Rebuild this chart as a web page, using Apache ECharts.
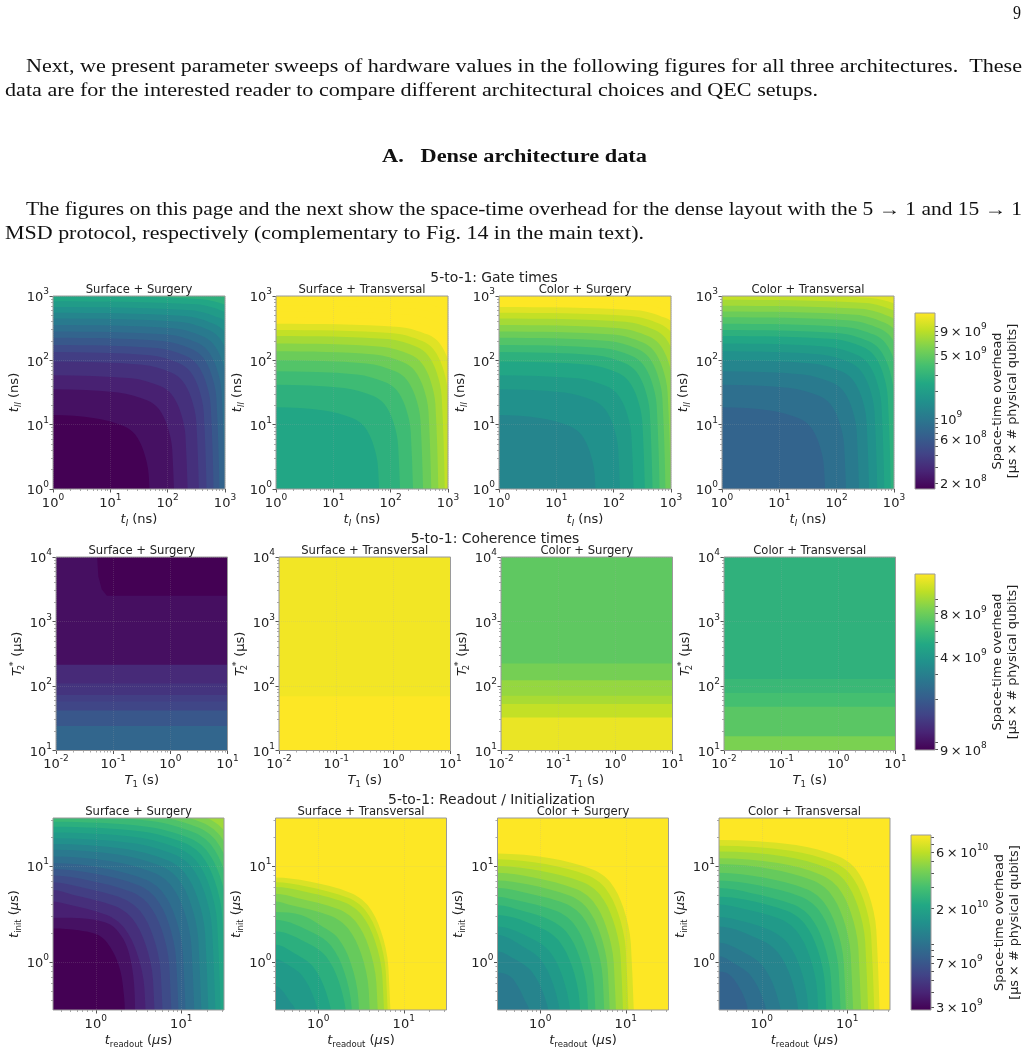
<!DOCTYPE html>
<html>
<head>
<meta charset="utf-8">
<title>Dense architecture parameter sweeps</title>
<script src="https://cdn.jsdelivr.net/npm/echarts@6/dist/echarts.min.js"></script>
<style>html,body{margin:0;padding:0;background:#fff}#page{width:1028px;height:1050px}</style>
</head>
<body>
<div id="page"></div>
<script>
// Band levels of the filled contours, one list per row (space-time overhead).
const gateLevels = [1.72e8,2.10e8,2.57e8,3.14e8,3.83e8,4.68e8,5.72e8,6.99e8,8.54e8,1.04e9,1.27e9,1.56e9,1.90e9,2.33e9,2.84e9,3.47e9,4.24e9,5.18e9,6.33e9,7.74e9,9.45e9,1.15e10,1.41e10];
const readoutLevels = [2.82e9,3.28e9,3.82e9,4.45e9,5.18e9,6.03e9,7.02e9,8.17e9,9.51e9,1.11e10,1.29e10,1.50e10,1.75e10,2.03e10,2.37e10,2.76e10,3.21e10,3.73e10,4.35e10,5.06e10,5.89e10,6.86e10,8.3e10];

// Colour bar ranges and labelled ticks.
const gateRange = [1.72e8, 1.41e10];
const coherenceRange = [8.9e8, 1.5e10];
const readoutRange = [2.82e9, 8.3e10];
const gateBarLabels = [2e8, 6e8, 1e9, 5e9, 9e9];
const coherenceBarLabels = [9e8, 4e9, 8e9];
const readoutBarLabels = [3e9, 7e9, 2e10, 6e10];

// Contour lines as flat lists of log10(x), log10(y), innermost contour first.
const gateCurvesSurgery = [
[0,1.15,.73,1.10,1.23,.98,1.43,.85,1.58,.59,1.67,.21,1.73,-1.85],
[0,1.55,1.14,1.5,1.64,1.38,1.84,1.25,1.99,.99,2.08,.61,2.14,-1.45],
[0,1.77,1.37,1.72,1.87,1.6,2.07,1.47,2.22,1.21,2.31,.83,2.37,-1.23],
[0,1.98,1.56,1.93,2.06,1.81,2.26,1.68,2.41,1.42,2.5,1.04,2.56,-1.02],
[0,2.13,1.69,2.08,2.19,1.96,2.39,1.83,2.54,1.57,2.63,1.19,2.69,-.87],
[0,2.24,1.81,2.19,2.31,2.07,2.51,1.94,2.66,1.68,2.75,1.3,2.81,-.76],
[0,2.35,1.91,2.3,2.41,2.18,2.61,2.05,2.76,1.79,2.85,1.41,2.91,-.65],
[0,2.45,2,2.4,2.5,2.28,2.7,2.15,2.85,1.89,2.94,1.51,3,-.55],
[0,2.55,2.1,2.5,2.6,2.38,2.8,2.25,2.95,1.99,3.04,1.61,3.1,-.45],
[0,2.65,2.2,2.6,2.7,2.48,2.9,2.35,3.05,2.09,3.14,1.71,3.2,-.35],
[0,2.74,2.3,2.69,2.8,2.57,3,2.44,3.15,2.18,3.24,1.8,3.3,-.26],
[0,2.83,2.4,2.78,2.9,2.66,3.1,2.53,3.25,2.27,3.34,1.89,3.4,-.17],
[0,2.92,2.5,2.87,3,2.75,3.2,2.62,3.35,2.36,3.44,1.98,3.5,-.08],
[0,3,2.6,2.95,3.1,2.83,3.3,2.7,3.45,2.44,3.54,2.06,3.6,0],
[0,3.08,2.7,3.03,3.2,2.91,3.4,2.78,3.55,2.52,3.64,2.14,3.7,.08]
];
const gateCurvesTransversal = [
[0,1.27,.84,1.22,1.34,1.1,1.54,.97,1.69,.71,1.78,.33,1.84,-1.73],
[0,1.62,1.19,1.57,1.69,1.45,1.89,1.32,2.04,1.06,2.13,.68,2.19,-1.38],
[0,1.83,1.41,1.78,1.91,1.66,2.11,1.53,2.26,1.27,2.35,.89,2.41,-1.17],
[0,2,1.58,1.95,2.08,1.83,2.28,1.7,2.43,1.44,2.52,1.06,2.58,-1],
[0,2.14,1.72,2.09,2.22,1.97,2.42,1.84,2.57,1.58,2.66,1.2,2.72,-.86],
[0,2.26,1.84,2.21,2.34,2.09,2.54,1.96,2.69,1.7,2.78,1.32,2.84,-.74],
[0,2.38,1.95,2.33,2.45,2.21,2.65,2.08,2.8,1.82,2.89,1.44,2.95,-.62],
[0,2.47,2.05,2.42,2.55,2.3,2.75,2.17,2.9,1.91,2.99,1.53,3.05,-.53],
[0,2.57,2.15,2.52,2.65,2.4,2.85,2.27,3,2.01,3.09,1.63,3.15,-.43],
[0,2.67,2.24,2.62,2.74,2.5,2.94,2.37,3.09,2.11,3.18,1.73,3.24,-.33],
[0,2.76,2.33,2.71,2.83,2.59,3.03,2.46,3.18,2.2,3.27,1.82,3.33,-.24],
[0,2.85,2.42,2.8,2.92,2.68,3.12,2.55,3.27,2.29,3.36,1.91,3.42,-.15],
[0,2.94,2.51,2.89,3.01,2.77,3.21,2.64,3.36,2.38,3.45,2,3.51,-.06],
[0,3.02,2.6,2.97,3.1,2.85,3.3,2.72,3.45,2.46,3.54,2.08,3.6,.02],
[0,3.1,2.7,3.05,3.2,2.93,3.4,2.8,3.55,2.54,3.64,2.16,3.7,.1]
];
const readoutCurvesSurfaceSurgery = [
[-.5,.35,-.2,.33,.05,.27,.2,.11,.29,-.1,.33,-.35,.34,-.5,.34,-2.6],
[-.5,.46,-.1,.45,.17,.39,.3,.27,.38,.12,.44,-.15,.46,-.5,.46,-2.5],
[-.5,.63,-.37,.61,.13,.49,.33,.36,.48,.1,.57,-.28,.63,-2.34],
[-.5,.75,-.27,.7,.23,.58,.43,.45,.58,.19,.67,-.19,.73,-2.25],
[-.5,.83,-.18,.78,.32,.66,.52,.53,.67,.27,.76,-.11,.82,-2.17],
[-.5,.9,-.08,.85,.42,.73,.62,.6,.77,.34,.86,-.04,.92,-2.1],
[-.5,.97,0,.92,.5,.8,.7,.67,.85,.41,.94,.03,1,-2.03],
[-.5,1.03,.08,.98,.58,.86,.78,.73,.93,.47,1.02,.09,1.08,-1.97],
[-.5,1.1,.18,1.05,.68,.93,.88,.8,1.03,.54,1.12,.16,1.18,-1.9],
[-.5,1.17,.26,1.12,.76,1,.96,.87,1.11,.61,1.2,.23,1.26,-1.83],
[-.5,1.23,.34,1.18,.84,1.06,1.04,.93,1.19,.67,1.28,.29,1.34,-1.77],
[-.5,1.29,.42,1.24,.92,1.12,1.12,.99,1.27,.73,1.36,.35,1.42,-1.71],
[-.5,1.35,.48,1.3,.98,1.18,1.18,1.05,1.33,.79,1.42,.41,1.48,-1.65],
[-.5,1.41,.54,1.36,1.04,1.24,1.24,1.11,1.39,.85,1.48,.47,1.54,-1.59],
[-.5,1.46,.6,1.41,1.1,1.29,1.3,1.16,1.45,.9,1.54,.52,1.6,-1.54],
[-.5,1.52,.65,1.47,1.15,1.35,1.35,1.22,1.5,.96,1.59,.58,1.65,-1.48],
[-.5,1.57,.7,1.52,1.2,1.4,1.4,1.27,1.55,1.01,1.64,.63,1.7,-1.43],
[-.5,1.62,.75,1.57,1.25,1.45,1.45,1.32,1.6,1.06,1.69,.68,1.75,-1.38],
[-.5,1.67,.8,1.62,1.3,1.5,1.5,1.37,1.65,1.11,1.74,.73,1.8,-1.33],
[-.5,1.73,.86,1.68,1.36,1.56,1.56,1.43,1.71,1.17,1.8,.79,1.86,-1.27],
[-.5,1.79,.92,1.74,1.42,1.62,1.62,1.49,1.77,1.23,1.86,.85,1.92,-1.21]
];
const readoutCurvesSurfaceTransversal = [
[-.5,-.25,-.42,-.3,-.34,-.4,-.27,-.5,-.27,-2],
[-.5,.03,-.39,-.01,-.19,-.14,-.04,-.4,.05,-.78,.11,-2.9],
[-.5,.18,-.26,.08,-.06,-.05,.09,-.31,.18,-.69,.24,-2.75],
[-.5,.32,-.11,.19,.09,.06,.24,-.2,.33,-.58,.39,-2.64],
[-.5,.44,-.05,.3,.15,.17,.3,-.09,.39,-.47,.45,-2.53],
[-.5,.52,-.2,.49,.03,.38,.23,.25,.38,-.01,.47,-.39,.53,-2.45],
[-.5,.63,-.35,.6,.15,.48,.35,.35,.5,.09,.59,-.29,.65,-2.35],
[-.5,.71,-.26,.67,.24,.55,.44,.42,.59,.16,.68,-.22,.74,-2.28],
[-.5,.78,-.19,.74,.31,.62,.51,.49,.66,.23,.75,-.15,.81,-2.21],
[-.5,.83,-.15,.79,.35,.67,.55,.54,.7,.28,.79,-.1,.85,-2.16],
[-.5,.88,-.12,.84,.38,.72,.58,.59,.73,.33,.82,-.05,.88,-2.11]
];
const readoutCurvesColorSurgery = [
[-.5,-.11,-.35,-.15,-.25,-.27,-.18,-.4,-.13,-.5,-.13,-2],
[-.5,.11,-.3,.03,-.1,-.1,.05,-.36,.14,-.74,.2,-2.8],
[-.5,.28,-.2,.16,0,.03,.15,-.23,.24,-.61,.3,-2.7],
[-.5,.37,-.09,.24,.11,.11,.26,-.15,.35,-.53,.41,-2.6],
[-.5,.49,.02,.35,.22,.22,.37,-.04,.46,-.42,.52,-2.48],
[-.5,.59,-.2,.53,.11,.44,.31,.31,.46,.05,.55,-.33,.61,-2.39],
[-.5,.68,-.31,.65,.19,.53,.39,.4,.54,.14,.63,-.24,.69,-2.3],
[-.5,.77,-.21,.73,.29,.61,.49,.48,.64,.22,.73,-.16,.79,-2.22],
[-.5,.85,-.15,.81,.35,.69,.55,.56,.7,.3,.79,-.08,.85,-2.14],
[-.5,.93,-.08,.88,.42,.76,.62,.63,.77,.37,.86,-.01,.92,-2.07],
[-.5,1,0,.95,.5,.83,.7,.7,.85,.44,.94,.06,1,-2],
[-.5,1.07,.06,1.02,.56,.9,.76,.77,.91,.51,1,.13,1.06,-1.93],
[-.5,1.13,.12,1.08,.62,.96,.82,.83,.97,.57,1.06,.19,1.12,-1.87]
];
const readoutCurvesColorTransversal = [
[-.5,-.1,-.38,-.13,-.28,-.24,-.2,-.38,-.165,-.5,-.165,-2],
[-.5,.06,-.33,-.01,-.13,-.14,.02,-.4,.11,-.78,.17,-2.8],
[-.5,.2,-.19,.09,.01,-.04,.16,-.3,.25,-.68,.31,-2.7],
[-.5,.37,-.01,.23,.19,.1,.34,-.16,.43,-.54,.49,-2.6],
[-.5,.47,-.2,.42,.1,.33,.3,.2,.45,-.06,.54,-.44,.6,-2.5],
[-.5,.6,-.29,.57,.21,.45,.41,.32,.56,.06,.65,-.32,.71,-2.38],
[-.5,.68,-.2,.65,.3,.53,.5,.4,.65,.14,.74,-.24,.8,-2.3],
[-.5,.77,-.13,.72,.37,.6,.57,.47,.72,.21,.81,-.17,.87,-2.23],
[-.5,.85,-.04,.8,.46,.68,.66,.55,.81,.29,.9,-.09,.96,-2.15],
[-.5,.93,.02,.88,.52,.76,.72,.63,.87,.37,.96,-.01,1.02,-2.07],
[-.5,1.02,.1,.97,.6,.85,.8,.72,.95,.46,1.04,.08,1.1,-1.98],
[-.5,1.08,.19,1.03,.69,.91,.89,.78,1.04,.52,1.13,.14,1.19,-1.92],
[-.5,1.15,.27,1.1,.77,.98,.97,.85,1.12,.59,1.21,.21,1.27,-1.85],
[-.5,1.21,.34,1.16,.84,1.04,1.04,.91,1.19,.65,1.28,.27,1.34,-1.79],
[-.5,1.27,.4,1.22,.9,1.1,1.1,.97,1.25,.71,1.34,.33,1.4,-1.73]
];

// Coherence sweep: horizontal bands, edges in log10(T2*) from top to bottom.
const coherenceSurfaceSurgeryEdges = [4,2.33,2.04,1.86,1.76,1.62,1.38,1];
const coherenceSurfaceSurgeryValues = [9.97e8,1.24e9,1.36e9,1.5e9,1.6e9,1.91e9,2.26e9];
const coherenceSurfaceSurgeryNotch = [-1.28,4,-1.26,3.7,-1.2,3.5,-1.11,3.4,1,3.4,1,4];
const coherenceSurfaceSurgeryNotchValue = 8.9e8;
const coherenceSurfaceTransversalEdges = [4,1.84,1];
const coherenceSurfaceTransversalValues = [1.43e10,1.5e10];
const coherenceColorSurgeryEdges = [4,2.35,2.09,1.85,1.72,1.51,1];
const coherenceColorSurgeryValues = [7.4e9,8.29e9,9.56e9,1.04e10,1.16e10,1.38e10];
const coherenceColorTransversalEdges = [4,2.11,1.89,1.68,1.22,1];
const coherenceColorTransversalValues = [5.43e9,5.9e9,6.43e9,7.2e9,8.53e9];

const panelTitles = ['Surface + Surgery','Surface + Transversal','Color + Surgery','Color + Transversal'];
const viridis = ['#440154','#482475','#414487','#355f8d','#2a788e','#21918c','#22a884','#44bf70','#7ad151','#bddf26','#fde725'];

const sans = 'DejaVu Sans';
const serif = 'Liberation Serif';

function hexRgb(h){return [1,3,5].map(i=>parseInt(h.substr(i,2),16));}
function viridisAt(t){
  t=Math.max(0,Math.min(1,t));
  const p=t*(viridis.length-1), i=Math.min(viridis.length-2,Math.floor(p)), f=p-i;
  const a=hexRgb(viridis[i]), b=hexRgb(viridis[i+1]);
  return 'rgb('+a.map((c,k)=>Math.round(c+(b[k]-c)*f)).join(',')+')';
}
function toPairs(flat){const o=[];for(let i=0;i<flat.length;i+=2)o.push([flat[i],flat[i+1]]);return o;}
const FAR=-9;

// Painter's order: outermost band first, each contour fills everything below and left of it.
function contourBands(curves,levels,start,box){
  const top=Math.min(levels.length-1,start+curves.length);
  const bands=[{value:levels[top],pts:[[box[0],box[2]],[box[1],box[2]],[box[1],box[3]],[box[0],box[3]]]}];
  for(let i=curves.length-1;i>=0;i--){
    const c=toPairs(curves[i]), last=c[c.length-1];
    bands.push({value:levels[Math.min(levels.length-1,start+i)],smooth:0.33,pts:[[FAR,FAR],[FAR,c[0][1]]].concat(c,[[last[0],FAR]])});
  }
  return bands;
}
// Stripes run from their upper edge down to the plot floor, so neighbours overlap without seams.
function stripeBands(edges,values,box){
  const floor=edges[edges.length-1];
  return values.map((v,i)=>({value:v,pts:[[box[0],edges[i]],[box[1],edges[i]],[box[1],floor],[box[0],floor]]}));
}
function minorTicks(lo,hi){
  const o=[];
  for(let d=Math.floor(lo);d<Math.ceil(hi);d++)for(let m=2;m<=9;m++){const v=d+Math.log10(m);if(v>lo&&v<hi)o.push(v);}
  return o;
}
function range(a,b){const o=[];for(let i=a;i<=b;i++)o.push(i);return o;}

const tickRich={b:{fontFamily:sans,fontSize:13,color:'#222',verticalAlign:'bottom',lineHeight:17},s:{fontFamily:sans,fontSize:9,color:'#222',verticalAlign:'top',lineHeight:17}};
const nameRich={
  i:{fontFamily:sans,fontStyle:'italic',fontSize:13,color:'#222',lineHeight:17},
  sub:{fontFamily:sans,fontStyle:'italic',fontSize:8.5,color:'#222',verticalAlign:'bottom',lineHeight:17},
  r:{fontFamily:sans,fontSize:8.5,color:'#222',verticalAlign:'bottom',lineHeight:17},
  two:{fontFamily:sans,fontSize:8.5,color:'#222',verticalAlign:'bottom',lineHeight:17,width:1},
  star:{fontFamily:sans,fontSize:9.5,color:'#222',verticalAlign:'top',lineHeight:17,width:6}
};

const rows=[
 {supTitle:'5-to-1: Gate times',supX:494,supY:278,titleY:290,lefts:[53,276,499,722],top:296,w:172,h:193,
  box:[0,3,0,3],xMajor:range(0,3),yMajor:range(0,3),xName:'{i|t}{sub|I} (ns)',yName:'{i|t}{sub|II} (ns)',
  bands:[contourBands(gateCurvesSurgery,gateLevels,0,[0,3,0,3]),contourBands(gateCurvesTransversal,gateLevels,13,[0,3,0,3]),contourBands(gateCurvesSurgery,gateLevels,10,[0,3,0,3]),contourBands(gateCurvesTransversal,gateLevels,7,[0,3,0,3])],
  bar:{left:915,top:313,w:20,h:176,range:gateRange,labels:gateBarLabels}},
 {supTitle:'5-to-1: Coherence times',supX:495,supY:539,titleY:551,lefts:[56,279,501,724],top:557,w:171.5,h:193.5,
  box:[-2,1,1,4],xMajor:range(-2,1),yMajor:range(1,4),xName:'{i|T}{r|1} (s)',yName:'{i|T}{two|2}{star|*} (μs)',
  bands:[stripeBands(coherenceSurfaceSurgeryEdges,coherenceSurfaceSurgeryValues,[-2,1]).concat([{value:coherenceSurfaceSurgeryNotchValue,pts:toPairs(coherenceSurfaceSurgeryNotch)}]),
         stripeBands(coherenceSurfaceTransversalEdges,coherenceSurfaceTransversalValues,[-2,1]),
         stripeBands(coherenceColorSurgeryEdges,coherenceColorSurgeryValues,[-2,1]),
         stripeBands(coherenceColorTransversalEdges,coherenceColorTransversalValues,[-2,1])],
  bar:{left:915,top:574,w:20,h:176,range:coherenceRange,labels:coherenceBarLabels}},
 {supTitle:'5-to-1: Readout / Initialization',supX:491.5,supY:800,titleY:812,lefts:[53,275.5,497.5,719],top:818,w:171,h:192,
  box:[-.5,1.5,-.5,1.5],xMajor:range(0,1),yMajor:range(0,1),xName:'{i|t}{r|readout} ({i|μ}s)',yName:'{i|t}{r|init} ({i|μ}s)',
  bands:[contourBands(readoutCurvesSurfaceSurgery,readoutLevels,0,[-.5,1.5,-.5,1.5]),contourBands(readoutCurvesSurfaceTransversal,readoutLevels,11,[-.5,1.5,-.5,1.5]),contourBands(readoutCurvesColorSurgery,readoutLevels,9,[-.5,1.5,-.5,1.5]),contourBands(readoutCurvesColorTransversal,readoutLevels,7,[-.5,1.5,-.5,1.5])],
  bar:{left:911,top:835,w:20,h:175,range:readoutRange,labels:readoutBarLabels}}
];

const grid=[],xAxis=[],yAxis=[],series=[],title=[];
const gridBorder={show:true,z:6,backgroundColor:'transparent',borderColor:'#9a9a9a',borderWidth:1,outerBoundsMode:'none'};
const gridLine={show:true,lineStyle:{color:'rgba(170,170,170,0.2)',type:'dotted',width:1}};

function expLabel(v){return '{b|10}{s|'+Math.round(v)+'}';}
function barLabel(v){
  const e=Math.floor(v+1e-9), m=Math.round(Math.pow(10,v-e));
  return m===1?'{b|10}{s|'+e+'}':'{b|'+m+'\u2009×\u200910}{s|'+e+'}';
}

function addPanel(row,col){
  const gi=grid.length, b=row.box, xi=xAxis.length, yi=yAxis.length;
  grid.push(Object.assign({left:row.lefts[col],top:row.top,width:row.w,height:row.h},gridBorder));
  const common={type:'value',gridIndex:gi,z:5,axisPointer:{show:false}};
  const majorLabel=(vals)=>({show:true,customValues:vals,formatter:expLabel,rich:tickRich,margin:4,hideOverlap:false});
  xAxis.push(Object.assign({},common,{min:b[0],max:b[1],position:'bottom',axisLine:{show:false,onZero:false},
    axisTick:{show:true,customValues:row.xMajor,length:3.5,lineStyle:{color:'#555'}},axisLabel:majorLabel(row.xMajor),splitLine:gridLine,
    name:row.xName,nameLocation:'middle',nameGap:17.5,nameTextStyle:{fontFamily:sans,fontSize:13,color:'#222',lineHeight:17,rich:nameRich}}));
  xAxis.push(Object.assign({},common,{min:b[0],max:b[1],position:'bottom',axisLine:{show:false,onZero:false},
    axisTick:{show:true,customValues:minorTicks(b[0],b[1]),length:2,lineStyle:{color:'#aaa'}},axisLabel:{show:false},splitLine:{show:false}}));
  yAxis.push(Object.assign({},common,{min:b[2],max:b[3],position:'left',axisLine:{show:false,onZero:false},
    axisTick:{show:true,customValues:row.yMajor,length:3.5,lineStyle:{color:'#555'}},axisLabel:majorLabel(row.yMajor),splitLine:gridLine,
    name:row.yName,nameLocation:'middle',nameGap:26,nameTextStyle:{fontFamily:sans,fontSize:13,color:'#222',lineHeight:17,rich:nameRich}}));
  yAxis.push(Object.assign({},common,{min:b[2],max:b[3],position:'left',axisLine:{show:false,onZero:false},
    axisTick:{show:true,customValues:minorTicks(b[2],b[3]),length:2,lineStyle:{color:'#aaa'}},axisLabel:{show:false},splitLine:{show:false}}));
  const bands=row.bands[col];
  series.push({type:'custom',coordinateSystem:'cartesian2d',xAxisIndex:xi,yAxisIndex:yi,clip:true,silent:true,z:2,animation:false,
    data:bands.map((_,i)=>[i]),
    renderItem:function(p,api){
      const band=bands[api.value(0)];
      return {type:'polygon',shape:{points:band.pts.map(q=>api.coord(q)),smooth:band.smooth||0},
        style:{fill:viridisAt(Math.log(band.value/row.bar.range[0])/Math.log(row.bar.range[1]/row.bar.range[0])),stroke:null}};
    }});
  title.push({text:panelTitles[col],left:row.lefts[col]+row.w/2,top:row.titleY-7,textAlign:'center',
    textStyle:{fontFamily:sans,fontSize:11.6,fontWeight:'normal',color:'#222',lineHeight:14},padding:0});
}

function addBar(row){
  const gi=grid.length, bar=row.bar, lo=Math.log10(bar.range[0]), hi=Math.log10(bar.range[1]);
  grid.push(Object.assign({left:bar.left,top:bar.top,width:bar.w,height:bar.h},gridBorder));
  const xi=xAxis.length, yi=yAxis.length;
  xAxis.push({type:'value',gridIndex:gi,min:0,max:1,show:false});
  const major=bar.labels.map(v=>Math.log10(v));
  yAxis.push({type:'value',gridIndex:gi,min:lo,max:hi,position:'right',z:5,axisLine:{show:false,onZero:false},
    axisTick:{show:true,customValues:minorTicks(lo,hi).concat(range(Math.ceil(lo),Math.floor(hi))),length:3,lineStyle:{color:'#555'}},
    axisLabel:{show:true,customValues:major,formatter:barLabel,rich:tickRich,margin:5,hideOverlap:false},
    splitLine:{show:false},
    name:'Space-time overhead\n[μs × # physical qubits]',nameLocation:'middle',nameRotate:90,nameGap:48,
    nameTextStyle:{fontFamily:sans,fontSize:12.8,color:'#222',lineHeight:15}});
  const stops=viridis.map((c,i)=>({offset:1-i/(viridis.length-1),color:c})).reverse();
  series.push({type:'custom',coordinateSystem:'cartesian2d',xAxisIndex:xi,yAxisIndex:yi,silent:true,z:2,animation:false,data:[[0]],
    renderItem:function(p,api){
      const a=api.coord([0,hi]), c=api.coord([1,lo]);
      return {type:'rect',shape:{x:a[0],y:a[1],width:c[0]-a[0],height:c[1]-a[1]},
        style:{fill:new echarts.graphic.LinearGradient(0,0,0,1,stops)}};
    }});
}

rows.forEach(row=>{
  [0,1,2,3].forEach(col=>addPanel(row,col));
  addBar(row);
  title.push({text:row.supTitle,left:row.supX,top:row.supY-8,textAlign:'center',
    textStyle:{fontFamily:sans,fontSize:13.9,fontWeight:'normal',color:'#222',lineHeight:16},padding:0});
});

// Running text of the page, each line stretched to its column extent.
const bodyLines=[
 {text:'Next, we present parameter sweeps of hardware values in the following figures for all three architectures.  These',x0:26,x1:1022,y:67},
 {text:'data are for the interested reader to compare different architectural choices and QEC setups.',x0:5,x1:818,y:91},
 {text:'A.   Dense architecture data',x0:382,x1:647,y:157,bold:true},
 {text:'The figures on this page and the next show the space-time overhead for the dense layout with the 5 → 1 and 15 → 1',x0:26,x1:1022,y:210},
 {text:'MSD protocol, respectively (complementary to Fig. 14 in the main text).',x0:5,x1:644,y:234},
 {text:'9',x0:1013,x1:1021,y:14}
];
const meter=document.createElement('canvas').getContext('2d');
const graphic=bodyLines.map(l=>{
  const font=(l.bold?'bold ':'')+'18px "'+serif+'"';
  meter.font=font;
  return {type:'text',x:l.x0,y:l.y,scaleX:(l.x1-l.x0)/meter.measureText(l.text).width,silent:true,
    style:{text:l.text,font:font,fill:'#111',textVerticalAlign:'middle',textAlign:'left'}};
});

const chart=echarts.init(document.getElementById('page'));
chart.setOption({animation:false,backgroundColor:'#fff',title,grid,xAxis,yAxis,series,graphic});
</script>
</body>
</html>
